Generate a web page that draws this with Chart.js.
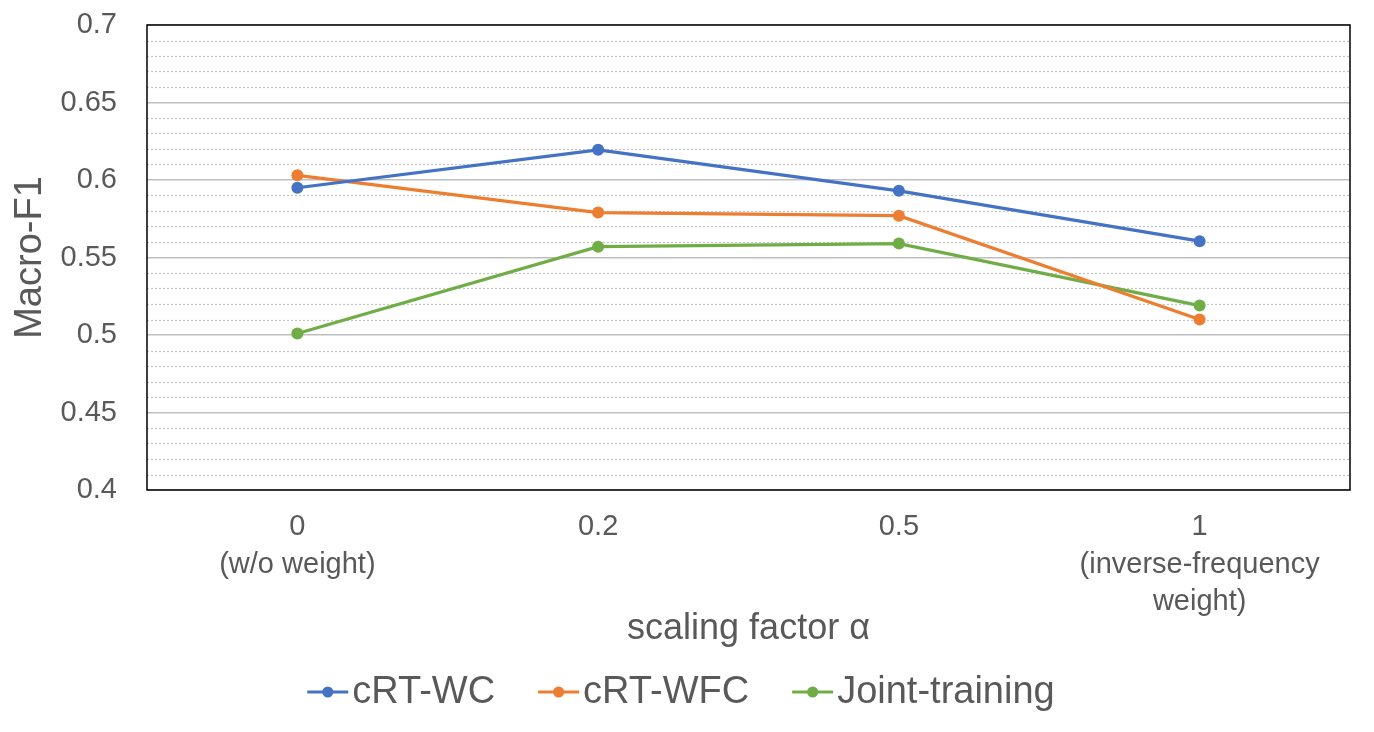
<!DOCTYPE html>
<html>
<head>
<meta charset="utf-8">
<script src="https://cdn.jsdelivr.net/npm/chart.js@4/dist/chart.umd.min.js"></script>
<style>
  html, body { margin: 0; padding: 0; background: #ffffff; }
  #wrap { width: 1374px; height: 732px; }
</style>
</head>
<body>
<div id="wrap"><canvas id="c" width="1374" height="732"></canvas></div>
<script>
// ---- data ----
const categories = [["0", "(w/o weight)"], "0.2", "0.5", ["1", "(inverse-frequency", "weight)"]];
const seriesNames = ["cRT-WC", "cRT-WFC", "Joint-training"];
const crtWC = [0.595, 0.6195, 0.593, 0.5605];
const crtWFC = [0.603, 0.579, 0.577, 0.510];
const jointTraining = [0.501, 0.557, 0.559, 0.519];
const yMin = 0.4, yMax = 0.7, yMajorStep = 0.05, yMinorStep = 0.01;
const xTitle = "scaling factor α";
const yTitle = "Macro-F1";

// ---- styling ----
const colors = ["#4472C4", "#ED7D31", "#70AD47"];
const textColor = "#595959";
const fontFamily = "'Liberation Sans', Arial, Helvetica, sans-serif";

const seriesData = [crtWC, crtWFC, jointTraining];

const minorGridPlugin = {
  id: "minorGrid",
  beforeDatasetsDraw(chart) {
    const { ctx, chartArea, scales } = chart;
    const y = scales.y;
    ctx.save();
    ctx.strokeStyle = "#c4c4c4";
    ctx.lineWidth = 1.25;
    ctx.setLineDash([2, 2]);
    const nMinor = Math.round((yMax - yMin) / yMinorStep);
    const perMajor = Math.round(yMajorStep / yMinorStep);
    for (let i = 1; i < nMinor; i++) {
      if (i % perMajor === 0) continue;
      const v = yMin + i * yMinorStep;
      const py = Math.round(y.getPixelForValue(v)) + 0.5;
      ctx.beginPath();
      ctx.moveTo(chartArea.left, py);
      ctx.lineTo(chartArea.right, py);
      ctx.stroke();
    }
    ctx.setLineDash([]);
    ctx.strokeStyle = "#000000";
    ctx.lineWidth = 1.5;
    ctx.strokeRect(chartArea.left, chartArea.top, chartArea.right - chartArea.left, chartArea.bottom - chartArea.top);
    ctx.restore();
  }
};

const customLegendPlugin = {
  id: "customLegend",
  afterDraw(chart) {
    const { ctx, width } = chart;
    ctx.save();
    ctx.font = "38px " + fontFamily;
    ctx.textBaseline = "middle";
    ctx.textAlign = "left";
    const lineW = 41, gapText = 4, gapItem = 43;
    const cy = 692;
    const ds = chart.data.datasets;
    let total = 0;
    const widths = ds.map(d => ctx.measureText(d.label).width);
    widths.forEach((w, i) => { total += lineW + gapText + w + (i < ds.length - 1 ? gapItem : 0); });
    let x = width / 2 - total / 2 - 6;
    ds.forEach((d, i) => {
      ctx.strokeStyle = d.borderColor;
      ctx.lineWidth = 3;
      ctx.beginPath();
      ctx.moveTo(x, cy);
      ctx.lineTo(x + lineW, cy);
      ctx.stroke();
      ctx.fillStyle = d.borderColor;
      ctx.beginPath();
      ctx.arc(x + lineW / 2, cy, 5.5, 0, Math.PI * 2);
      ctx.fill();
      ctx.fillStyle = textColor;
      ctx.fillText(d.label, x + lineW + gapText, cy + 1);
      x += lineW + gapText + widths[i] + gapItem;
    });
    ctx.restore();
  }
};

new Chart(document.getElementById("c"), {
  type: "line",
  data: {
    labels: categories,
    datasets: seriesNames.map((name, i) => ({
      label: name,
      data: seriesData[i],
      borderColor: colors[i],
      backgroundColor: colors[i],
      borderWidth: 3.25,
      pointRadius: 6,
      pointHoverRadius: 6,
      pointBackgroundColor: colors[i],
      pointBorderColor: colors[i],
      pointBorderWidth: 0,
      tension: 0,
      fill: false
    }))
  },
  options: {
    responsive: false,
    animation: false,
    devicePixelRatio: 1,
    layout: { padding: { left: 0, right: 24, top: 25, bottom: 77 } },
    plugins: {
      legend: { display: false },
      tooltip: { enabled: false }
    },
    scales: {
      x: {
        type: "category",
        offset: true,
        grid: { display: false, drawTicks: false },
        border: { display: false },
        ticks: {
          color: textColor,
          font: { family: fontFamily, size: 29, lineHeight: 1.3 },
          padding: 18,
          maxRotation: 0,
          autoSkip: false
        },
        title: {
          display: true,
          text: xTitle,
          color: textColor,
          font: { family: fontFamily, size: 36, lineHeight: 1.2 },
          padding: { top: 0, bottom: 4 }
        },
        afterFit(scale) { scale.height = 165; scale.paddingLeft = 0; scale.paddingRight = 0; }
      },
      y: {
        min: yMin,
        max: yMax,
        grid: { color: "#bfbfbf", lineWidth: 1.5, drawTicks: false },
        border: { display: false },
        ticks: {
          stepSize: yMajorStep,
          color: textColor,
          font: { family: fontFamily, size: 29 },
          padding: 30,
          callback: (v) => String(parseFloat(Number(v).toFixed(2)))
        },
        title: {
          display: true,
          text: yTitle,
          color: textColor,
          font: { family: fontFamily, size: 38, lineHeight: 1.2 },
          padding: { top: 8, bottom: 0 }
        },
        afterFit(scale) { scale.width = 147; scale.paddingTop = 0; scale.paddingBottom = 0; }
      }
    }
  },
  plugins: [minorGridPlugin, customLegendPlugin]
});
</script>
</body>
</html>
